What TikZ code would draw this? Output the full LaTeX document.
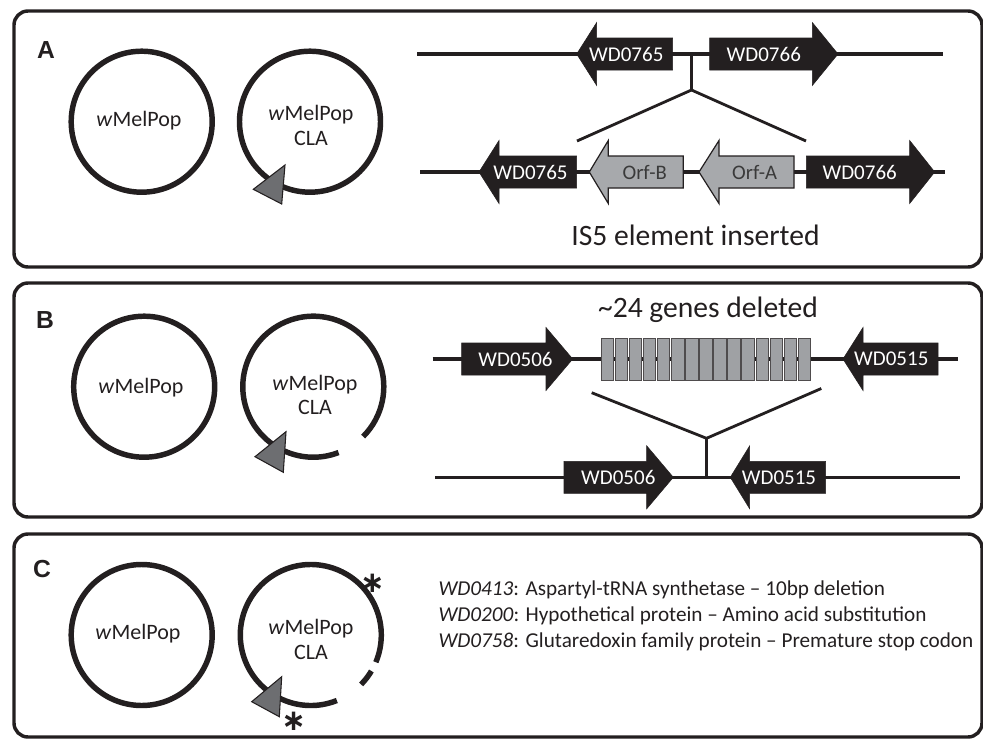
\documentclass[tikz,border=0pt]{standalone}
\usepackage{fontspec}
\setmainfont{Carlito}
\newfontfamily\panelfont{Liberation Sans}
\newfontfamily\symfont{DejaVu Sans}
\definecolor{ink}{HTML}{231F20}
\definecolor{orfgray}{HTML}{A7A9AC}
\definecolor{boxgray}{HTML}{9FA1A4}
\definecolor{markgray}{HTML}{6D6E71}
\definecolor{orftext}{HTML}{3A3A3A}
% gene arrow polygon: #1 tail x, #2 head base x, #3 tip x, #4 axis y, #5 style
\newcommand{\genearrow}[5]{%
  \path[#5] (#1,#4-16) -- (#2,#4-16) -- (#2,#4-31.5) -- (#3,#4)
    -- (#2,#4+31.5) -- (#2,#4+16) -- (#1,#4+16) -- cycle;}
\begin{document}
\begin{tikzpicture}[x=0.75pt,y=-0.75pt,
  panel/.style={draw=ink, line width=2.6pt, rounded corners=10.5pt},
  plasmid/.style={draw=ink, line width=4.1pt},
  genome/.style={draw=ink, line width=2.5pt},
  link/.style={draw=ink, line width=2.1pt},
  blackgene/.style={fill=ink, draw=ink, line width=0.4pt},
  graygene/.style={fill=orfgray, draw=ink, line width=0.9pt},
  genebox/.style={fill=boxgray, draw=ink!80, line width=0.7pt},
  marker/.style={fill=markgray, draw=ink, line width=0.8pt},
  genelbl/.style={text=white, inner sep=0pt, font=\fontsize{15.75}{18}\selectfont},
  orflbl/.style={text=orftext, inner sep=0pt, font=\fontsize{15.5}{18}\selectfont},
  plbl/.style={inner sep=0pt, anchor=base, text=ink, font=\fontsize{16.5}{20}\selectfont},
  panellbl/.style={inner sep=0pt, text=ink, font=\panelfont\bfseries\fontsize{18.5}{22}\selectfont},
  caption/.style={inner sep=0pt, anchor=base, text=ink, font=\fontsize{22.2}{26}\selectfont},
  listline/.style={inner sep=0pt, anchor=base west, text=ink, font=\fontsize{15.9}{19}\selectfont},
  star/.style={inner sep=0pt, anchor=base, text=ink, font=\symfont\bfseries\fontsize{22}{24}\selectfont}]
\useasboundingbox (0,0) rectangle (983,740);

% ---------- panel frames ----------
\draw[panel] (14,11) rectangle (982,267);
\draw[panel] (14,283) rectangle (982,517);
\draw[panel] (14,534) rectangle (982,737);
\node[panellbl] (labA) at (46,50) {A};
\node[panellbl] (labB) at (45,320) {B};
\node[panellbl] (labC) at (42,569) {C};

% ---------- plasmids, panel A ----------
\draw[plasmid] (141.7,121.7) circle[radius=70.5];
\node[plbl] (pA1) at (139,126) {\textit{w}MelPop};
\draw[plasmid] (310,121.7) circle[radius=70.5];
\node[plbl] (pA2) at (311,120) {\textit{w}MelPop};
\node[plbl] (pA2b) at (311,145.5) {CLA};
\draw[marker] (253.3,189.3) -- (285,165) -- (281.7,204) -- cycle;

% ---------- plasmids, panel B ----------
\draw[plasmid] (144.2,386.7) circle[radius=70.5];
\node[plbl] (pB1) at (141,393) {\textit{w}MelPop};
\draw[plasmid] (313.3,386.7) ++(69:70.5) arc[start angle=69, end angle=405, radius=70.5];
\node[plbl] (pB2) at (315,390) {\textit{w}MelPop};
\node[plbl] (pB2b) at (315,414) {CLA};
\draw[marker] (255,456.7) -- (286,431.7) -- (283.3,472.3) -- cycle;

% ---------- plasmids, panel C ----------
\draw[plasmid] (141.7,635) circle[radius=70.5];
\node[plbl] (pC1) at (138,639) {\textit{w}MelPop};
\draw[plasmid] (310.8,635) ++(68.3:70.5) arc[start angle=68.3, end angle=382.7, radius=70.5];
\draw[plasmid] (310.8,635) ++(30.7:70.5) arc[start angle=30.7, end angle=44.5, radius=70.5];
\node[plbl] (pC2) at (311,634) {\textit{w}MelPop};
\node[plbl] (pC2b) at (311,659) {CLA};
\draw[marker] (251.7,701.7) -- (281.7,676.7) -- (279.3,716.7) -- cycle;
% mutation marks (asterisk operator sits on the math axis)
\node[star] (s1) at (372.5,592) {∗};
\node[star] (s2) at (293.7,730) {∗};

% ---------- panel A: IS5 insertion ----------
\coordinate (a1L) at (417,54);
\coordinate (a1R) at (943,54);
\coordinate (a2L) at (420,172);
\coordinate (a2R) at (945,172);
\draw[genome] (a1L) -- (a1R);
\draw[genome] (a2L) -- (a2R);
\coordinate (ajn) at (691.5,54);
\coordinate (apx) at (691.5,90);
\coordinate (aLe) at (577,141);
\coordinate (aRe) at (806,141);
\draw[link] (ajn) -- (apx);
\draw[link] (aLe) -- (apx) -- (aRe);

\genearrow{672.7}{596.7}{576.7}{54}{blackgene}
\node[genelbl] (gA765) at (626.3,54) {WD0765};
\genearrow{709.7}{812.3}{838}{54}{blackgene}
\node[genelbl] (gA766) at (763.8,54) {WD0766};

\genearrow{576.7}{499}{479}{172}{blackgene}
\node[genelbl] (gA765b) at (530.5,172) {WD0765};
\genearrow{683.3}{608.3}{589.3}{172}{graygene}
\node[orflbl] (orfB) at (644.7,172) {Orf-B};
\genearrow{794}{719}{699}{172}{graygene}
\node[orflbl] (orfA) at (754.7,172) {Orf-A};
\genearrow{806.3}{909.7}{934.7}{172}{blackgene}
\node[genelbl] (gA766b) at (859.7,172) {WD0766};

\node[caption] (capA) at (695.5,245) {IS5 element inserted};

% ---------- panel B: deletion ----------
\node[caption] (capB) at (708,317) {\textasciitilde24 genes deleted};
\coordinate (b1L) at (432.7,359);
\coordinate (b1R) at (958,359);
\coordinate (b2L) at (435,477.3);
\coordinate (b2R) at (959.7,477.3);
\draw[genome] (b1L) -- (b1R);
\draw[genome] (b2L) -- (b2R);
\coordinate (bjn) at (706.5,477.3);
\coordinate (bpx) at (706.5,438.3);
\coordinate (bLe) at (591.7,392.7);
\coordinate (bRe) at (821.3,388.5);
\draw[link] (bjn) -- (bpx);
\draw[link] (bLe) -- (bpx) -- (bRe);

\foreach \i in {0,...,14}
  \draw[genebox] ({601+14.09*\i},338.3) rectangle ({601+14.09*\i+12.6},380);

\genearrow{461.7}{546}{572.7}{359}{blackgene}
\node[genelbl] (gB506) at (515.5,359) {WD0506};
\genearrow{938}{863}{843}{359}{blackgene}
\node[genelbl] (gB515) at (891.3,359) {WD0515};
\genearrow{564}{646.7}{673.3}{477.3}{blackgene}
\node[genelbl] (gB506b) at (618.3,477.3) {WD0506};
\genearrow{825.7}{749.7}{730.3}{477.3}{blackgene}
\node[genelbl] (gB515b) at (779,477.3) {WD0515};

% ---------- panel C: point mutations ----------
\node[listline] (m1) at (438.3,595) {\textit{WD0413}: Aspartyl-tRNA synthetase – 10bp deletion};
\node[listline] (m2) at (438.3,621) {\textit{WD0200}: Hypothetical protein – Amino acid substitution};
\node[listline] (m3) at (438.3,647) {\textit{WD0758}: Glutaredoxin family protein – Premature stop codon};
\end{tikzpicture}
\end{document}
